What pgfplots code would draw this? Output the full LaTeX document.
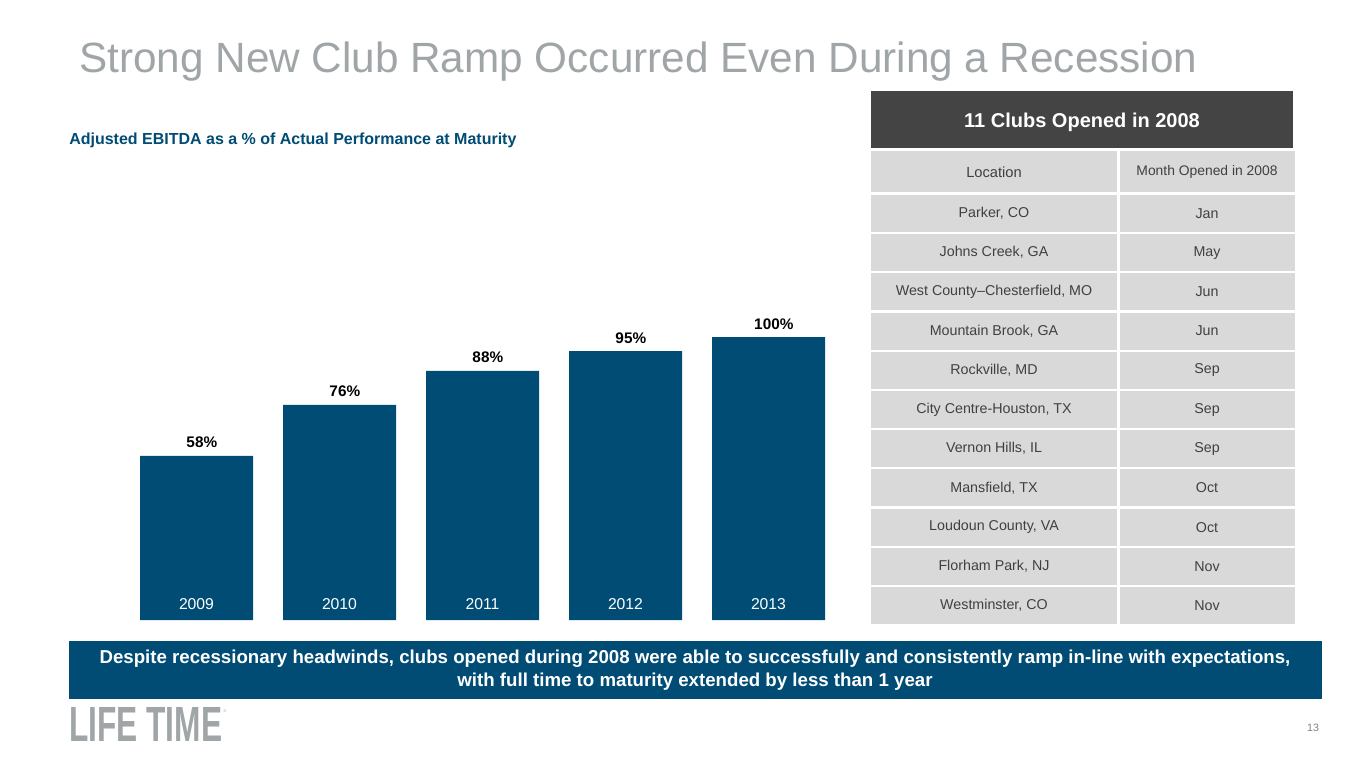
\documentclass[border=0pt]{standalone}
\usepackage{pgfplots}
\pgfplotsset{compat=1.18}
\usepackage{fontspec}
\setmainfont{Liberation Sans}
\definecolor{ltblue}{HTML}{004C75}
\definecolor{titlegray}{HTML}{A0A5A8}
\definecolor{hdrgray}{HTML}{444444}
\definecolor{cellgray}{HTML}{D9D9D9}
\definecolor{txtgray}{HTML}{404040}
\begin{document}
\begin{tikzpicture}[x=0.75pt,y=-0.75pt,
    year/.style={anchor=base, yshift=8.25pt, text=white,
        font=\fontsize{11.8}{13}\selectfont}]
% canvas, in pixels from the top-left corner
\path[use as bounding box, fill=white] (0,0) rectangle (1365,768);

% title and subtitle
\node[anchor=base west, inner sep=0, text=titlegray,
      font=\fontsize{31.7}{36}\selectfont] at (79,72)
  {Strong New Club Ramp Occurred Even During a Recession};
\node[anchor=base west, inner sep=0, text=ltblue,
      font=\bfseries\fontsize{12}{13}\selectfont] at (69,144)
  {Adjusted EBITDA as a \% of Actual Performance at Maturity};

% bar chart (bottom of bars at 620 px -> -465pt)
\begin{axis}[
    at={(93.75pt,-465pt)}, anchor=south west,
    width=536.25pt, height=212.25pt, scale only axis,
    xmin=-0.5, xmax=4.5, ymin=0, ymax=100,
    axis line style={draw=none},
    major tick style={draw=none},
    ytick=\empty, xtick=\empty,
    ybar, bar width=84.75pt,
    point meta=explicit symbolic,
    nodes near coords,
    nodes near coords style={anchor=base, yshift=6pt, xshift=4pt, text=black,
        font=\bfseries\fontsize{11.5}{13}\selectfont},
    clip=false,
  ]
\addplot[fill=ltblue, draw=none, bar shift=0pt] coordinates {
  (0,58) [58\%]
  (1,76) [76\%]
  (2,88) [88\%]
  (3,95) [95\%]
  (4,100) [100\%]
};
% category names inside the bars
\node[year] at (axis cs:0,0) {2009};
\node[year] at (axis cs:1,0) {2010};
\node[year] at (axis cs:2,0) {2011};
\node[year] at (axis cs:3,0) {2012};
\node[year] at (axis cs:4,0) {2013};
\end{axis}

% table
\fill[hdrgray] (871,91) rectangle (1293,148);
\node[text=white, font=\bfseries\fontsize{15}{17}\selectfont] at (1082,122) {11 Clubs Opened in 2008};
\fill[cellgray] (871,151) rectangle (1117,192);
\fill[cellgray] (1120,151) rectangle (1295,192);
\node[text=txtgray, font=\fontsize{11}{13}\selectfont] at (994,172) {Location};
\node[text=txtgray, font=\fontsize{10.4}{12}\selectfont] at (1207,172) {Month Opened in 2008};
\foreach \loc/\mon [count=\i from 0] in {
    {Parker, CO}/Jan,
    {Johns Creek, GA}/May,
    {West County–Chesterfield, MO}/Jun,
    {Mountain Brook, GA}/Jun,
    {Rockville, MD}/Sep,
    {City Centre-Houston, TX}/Sep,
    {Vernon Hills, IL}/Sep,
    {Mansfield, TX}/Oct,
    {Loudoun County, VA}/Oct,
    {Florham Park, NJ}/Nov,
    {Westminster, CO}/Nov} {
  \pgfmathsetmacro{\top}{195+39.2*\i}
  \fill[cellgray] (871,\top) rectangle (1117,\top+37);
  \fill[cellgray] (1120,\top) rectangle (1295,\top+37);
  \node[text=txtgray, font=\fontsize{10.7}{13}\selectfont] at (994,\top+18.5) {\loc};
  \node[text=txtgray, font=\fontsize{10.7}{13}\selectfont] at (1207,\top+18.5) {\mon};
}

% banner
\fill[ltblue] (69,641) rectangle (1322,699);
\node[align=center, text=white, font=\bfseries\fontsize{14}{17}\selectfont] at (695,670)
  {Despite recessionary headwinds, clubs opened during 2008 were able to successfully and consistently ramp in-line with expectations,\\
   with full time to maturity extended by less than 1 year};

% footer
\node[anchor=south west, inner sep=0, text=titlegray] at (69,742)
  {\resizebox{114.75pt}{25.5pt}{\bfseries LIFE TIME}};
\node[anchor=north west, inner sep=0, text=titlegray, font=\fontsize{3}{3}\selectfont] at (223,709) {®};
\node[text=gray, font=\fontsize{8}{9}\selectfont] at (1313,728) {13};
\end{tikzpicture}
\end{document}
